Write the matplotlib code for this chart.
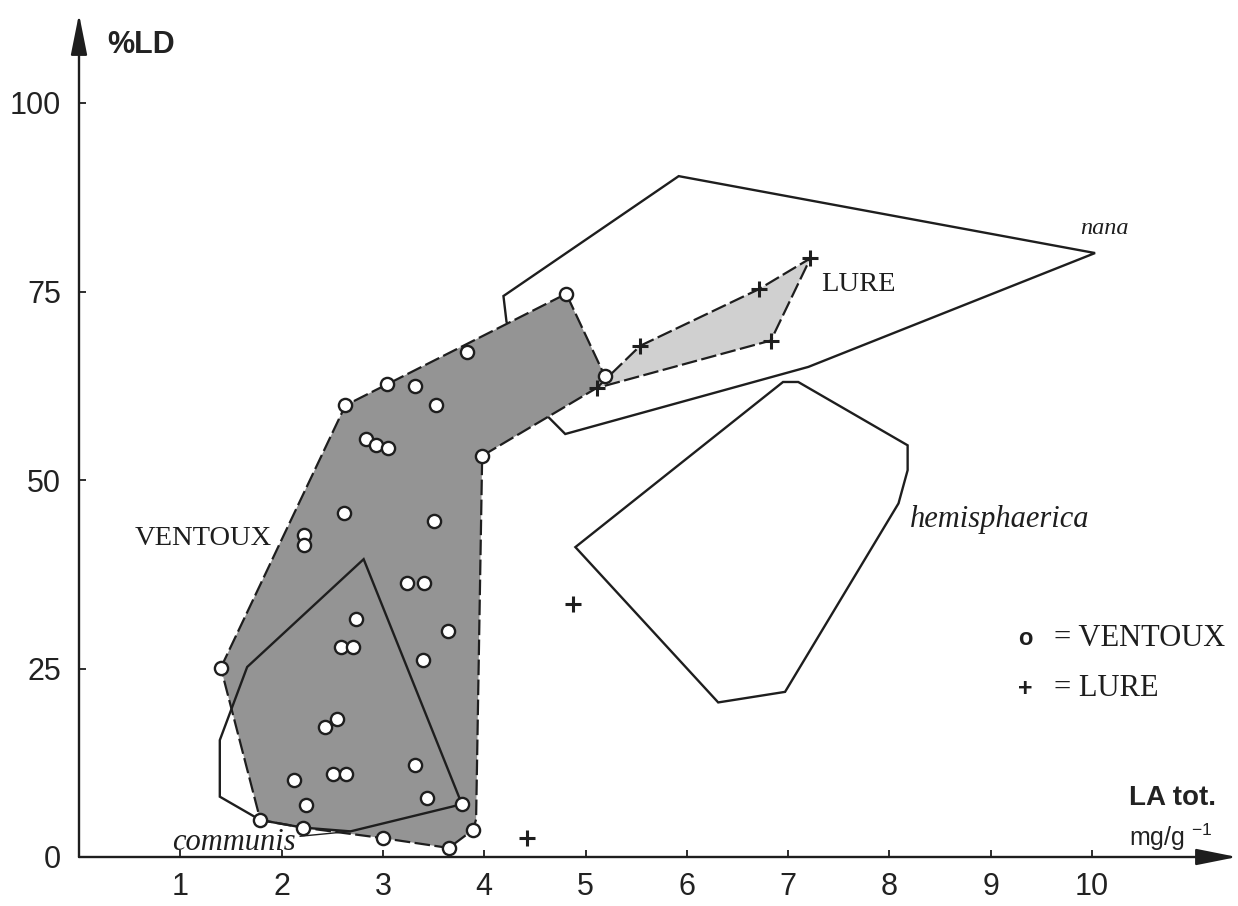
import matplotlib
matplotlib.use("Agg")
import matplotlib.pyplot as plt
from matplotlib.patches import Polygon

plt.rcParams["mathtext.fontset"] = "custom"
plt.rcParams["mathtext.rm"] = "Liberation Sans"

# Individual samples: total LA (mg/g) vs %LD
ventoux_la = [1.40, 1.79, 2.21, 3.00, 3.65, 3.89, 3.78, 3.44, 3.32, 2.12, 2.24, 2.51,
              2.64, 2.43, 2.55, 2.59, 2.70, 2.73, 3.40, 3.64, 3.24, 3.41, 2.22, 2.22,
              2.62, 3.50, 2.83, 2.93, 3.05, 3.98, 3.52, 2.63, 3.04, 3.32, 3.83, 4.81, 5.19]
ventoux_ld = [25.1, 4.9, 3.9, 2.5, 1.2, 3.6, 7.0, 7.8, 12.2, 10.2, 6.9, 11.0,
              11.0, 17.2, 18.3, 27.9, 27.9, 31.6, 26.1, 30.0, 36.3, 36.3, 42.7, 41.4,
              45.6, 44.6, 55.4, 54.6, 54.2, 53.2, 59.9, 59.9, 62.7, 62.5, 67.0, 74.7, 63.8]

lure_la = [5.11, 5.54, 6.71, 7.22, 6.83, 4.42, 4.88]
lure_ld = [62.2, 67.8, 75.3, 79.4, 68.5, 2.5, 33.6]

# Outlines of the population envelopes
ventoux_env_la = [1.40, 2.63, 4.81, 5.19, 5.11, 3.98, 3.92, 3.89, 3.65, 3.00, 2.21, 1.79]
ventoux_env_ld = [25.1, 59.9, 74.7, 63.8, 62.2, 53.2, 5.0, 3.6, 1.2, 2.5, 3.9, 4.9]

lure_env_la = [5.11, 5.54, 6.71, 7.22, 6.83]
lure_env_ld = [62.2, 67.8, 75.3, 79.4, 68.5]

# Reference envelopes for the subspecies
nana_la = [4.19, 5.92, 10.03, 7.20, 4.80, 4.60, 4.22]
nana_ld = [74.4, 90.3, 80.1, 65.0, 56.1, 58.8, 71.0]

hemis_la = [4.90, 6.95, 7.10, 8.18, 8.18, 8.09, 6.97, 6.31]
hemis_ld = [41.1, 63.0, 63.0, 54.6, 51.3, 46.9, 21.9, 20.5]

communis_la = [2.81, 1.66, 1.39, 1.39, 1.79, 2.21, 2.68, 3.78]
communis_ld = [39.5, 25.2, 15.5, 8.0, 4.9, 3.9, 3.4, 7.0]

x_ticks = [1, 2, 3, 4, 5, 6, 7, 8, 9, 10]
y_ticks = [0, 25, 50, 75, 100]

W, H = 1238, 906
fig = plt.figure(figsize=(W / 100, H / 100), dpi=100)
x0, x1 = 79, 1237
y0, y1 = 857, 14
ax = fig.add_axes([x0 / W, (H - y0) / H, (x1 - x0) / W, (y0 - y1) / H])
ax.set_xlim(0, (x1 - x0) / 101.3)
ax.set_ylim(0, (y0 - y1) / 7.54)
for s in ax.spines.values():
    s.set_visible(False)

ink = "#1e1e1e"

# Open envelopes
for xs, ys in [(nana_la, nana_ld), (hemis_la, hemis_ld)]:
    ax.add_patch(Polygon(list(zip(xs, ys)), closed=True, fill=False,
                         edgecolor=ink, lw=1.7, zorder=1))

# Shaded population envelopes with dashed borders
ax.add_patch(Polygon(list(zip(ventoux_env_la, ventoux_env_ld)), closed=True,
                     facecolor="#949494", edgecolor="none", zorder=2))
ax.add_patch(Polygon(list(zip(ventoux_env_la, ventoux_env_ld)), closed=True,
                     fill=False, edgecolor=ink, lw=1.6, ls=(0, (7, 2)), zorder=3))
ax.add_patch(Polygon(list(zip(lure_env_la, lure_env_ld)), closed=True,
                     facecolor="#d0d0d0", edgecolor="none", zorder=2))
ax.add_patch(Polygon(list(zip(lure_env_la, lure_env_ld)), closed=True,
                     fill=False, edgecolor=ink, lw=1.6, ls=(0, (7, 2)), zorder=3))

ax.add_patch(Polygon(list(zip(communis_la, communis_ld)), closed=True, fill=False,
                     edgecolor=ink, lw=1.7, zorder=4))

# Samples
ax.plot(ventoux_la, ventoux_ld, ls="none", marker="o", ms=9.5, mfc="white",
        mec=ink, mew=1.7, zorder=6, clip_on=False)
ax.plot(lure_la, lure_ld, ls="none", marker="+", ms=11, mec=ink, mew=2.2,
        zorder=6, clip_on=False)

# Axes with arrow heads
arrow = dict(arrowstyle="-|>,head_length=1.0,head_width=0.2", lw=1.7,
             color=ink, shrinkA=0, shrinkB=0, mutation_scale=25)
ax.annotate("", xy=(1, 0), xytext=(0, 0), xycoords="axes fraction",
            textcoords="axes fraction", arrowprops=arrow)
ax.annotate("", xy=(0, 1), xytext=(0, 0), xycoords="axes fraction",
            textcoords="axes fraction", arrowprops=arrow)

sans = "Liberation Sans"
serif = "Liberation Serif"
ax.set_xticks(x_ticks)
ax.set_yticks(y_ticks)
ax.set_xticklabels([str(v) for v in x_ticks], fontsize=22, family=sans)
ax.set_yticklabels([str(v) for v in y_ticks], fontsize=22, family=sans)
ax.tick_params(axis="x", direction="in", length=5, width=1.3, pad=11, colors=ink,
               labelcolor="#222222")
ax.tick_params(axis="y", direction="in", length=5, width=1.3, pad=13, colors=ink,
               labelcolor="#222222")

# Axis titles
ax.text(0.28, 107.7, "%LD", fontsize=22, fontweight="bold", family=sans,
        color="#222222", ha="left", va="center", clip_on=False)
ax.text(10.37, 7.8, "LA tot.", fontsize=20, fontweight="bold", family=sans,
        color="#222222", ha="left", va="center", clip_on=False)
ax.text(10.37, 2.6, "mg/g $^{-1}$", fontsize=18, family=sans,
        color="#222222", ha="left", va="center", clip_on=False)

# Group labels
ax.text(0.55, 42.3, "VENTOUX", fontsize=20.5, family=serif, color=ink,
        ha="left", va="center")
ax.text(7.33, 75.9, "LURE", fontsize=20.5, family=serif, color=ink,
        ha="left", va="center")
ax.text(9.88, 83.4, "nana", fontsize=17.5, family=serif, style="italic", color=ink,
        ha="left", va="center")
ax.text(8.20, 44.8, "hemisphaerica", fontsize=22, family=serif, style="italic",
        color=ink, ha="left", va="center")
ax.annotate("communis", xy=(communis_la[6], communis_ld[6]), xytext=(0.92, 1.9),
            fontsize=22, family=serif, style="italic", color=ink,
            ha="left", va="center", zorder=5,
            arrowprops=dict(arrowstyle="-", lw=1.0, color=ink, shrinkA=1, shrinkB=0))

# Key
ax.text(9.34, 29.0, "o", fontsize=17, fontweight="bold", family=sans, color=ink,
        ha="center", va="center")
ax.text(9.62, 29.0, "= VENTOUX", fontsize=22, family=serif, color=ink,
        ha="left", va="center")
ax.text(9.34, 22.3, "+", fontsize=18, fontweight="bold", family=sans, color=ink,
        ha="center", va="center")
ax.text(9.62, 22.3, "= LURE", fontsize=22, family=serif, color=ink,
        ha="left", va="center")

fig.savefig("out.png", dpi=100, facecolor="white")
